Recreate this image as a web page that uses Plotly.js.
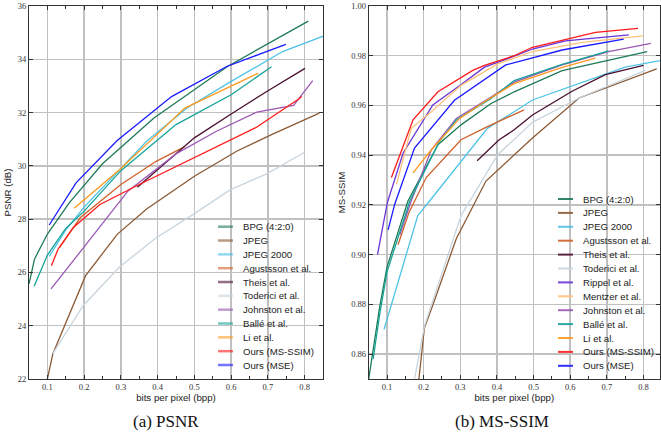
<!DOCTYPE html>
<html><head><meta charset="utf-8">
<script src="https://cdn.plot.ly/plotly-3.0.1.min.js"></script>
<style>html,body{margin:0;padding:0;background:#fff;}#chart{width:661px;height:439px;}</style>
</head><body><div id="chart"></div>
<script>
// ---------- PSNR panel (a) ----------
const seriesNamesA = ["BPG (4:2:0)", "JPEG", "JPEG 2000", "Agustsson et al.", "Theis et al.", "Toderici et al.", "Johnston et al.", "Ballé et al.", "Li et al.", "Ours (MS-SSIM)", "Ours (MSE)"];
const bpgA_x = [0.05, 0.065, 0.1, 0.16, 0.25, 0.39, 0.59, 0.81];
const bpgA_y = [25.57, 26.5, 27.44, 28.62, 30.08, 31.8, 33.73, 35.43];
const jpegA_x = [0.1, 0.115, 0.204, 0.29, 0.37, 0.5, 0.615, 0.71, 0.84];
const jpegA_y = [22.0, 22.95, 25.88, 27.43, 28.38, 29.61, 30.55, 31.17, 31.98];
const jp2kA_x = [0.105, 0.15, 0.2, 0.3, 0.37, 0.48, 0.6, 0.74, 0.87];
const jp2kA_y = [26.6, 27.6, 28.45, 29.9, 30.92, 32.17, 33.17, 34.29, 34.97];
const agusA_x = [0.133, 0.19, 0.3, 0.396, 0.474];
const agusA_y = [26.93, 28.06, 29.3, 30.17, 30.72];
const theisA_x = [0.345, 0.5, 0.597, 0.697, 0.801];
const theisA_y = [29.2, 31.05, 31.92, 32.79, 33.66];
const todA_x = [0.115, 0.197, 0.297, 0.397, 0.497, 0.597, 0.697, 0.801];
const todA_y = [22.95, 24.75, 26.21, 27.31, 28.18, 29.1, 29.7, 30.52];
const johnA_x = [0.11, 0.319, 0.45, 0.56, 0.67, 0.77, 0.822];
const johnA_y = [25.38, 29.05, 30.45, 31.3, 32.02, 32.27, 33.2];
const balleA_x = [0.064, 0.1, 0.15, 0.2, 0.3, 0.45, 0.6, 0.71];
const balleA_y = [25.48, 26.65, 27.65, 28.3, 29.82, 31.55, 32.67, 33.72];
const liA_x = [0.173, 0.297, 0.4, 0.474, 0.674];
const liA_y = [28.41, 29.86, 31.2, 32.17, 33.48];
const msssimA_x = [0.111, 0.129, 0.17, 0.197, 0.243, 0.35, 0.5, 0.669, 0.783, 0.792];
const msssimA_y = [26.25, 26.87, 27.68, 28.0, 28.55, 29.3, 30.3, 31.45, 32.5, 32.6];
const mseA_x = [0.105, 0.137, 0.178, 0.29, 0.438, 0.588, 0.749];
const mseA_y = [27.78, 28.49, 29.36, 30.95, 32.6, 33.73, 34.56];

// ---------- MS-SSIM panel (b) ----------
const seriesNamesB = ["BPG (4:2:0)", "JPEG", "JPEG 2000", "Agustsson et al.", "Theis et al.", "Toderici et al.", "Rippel et al.", "Mentzer et al.", "Johnston et al.", "Ballé et al.", "Li et al.", "Ours (MS-SSIM)", "Ours (MSE)"];
const bpgB_x = [0.05, 0.08, 0.1, 0.157, 0.239, 0.302, 0.384, 0.447, 0.578, 0.81];
const bpgB_y = [0.85, 0.879, 0.895, 0.9216, 0.9442, 0.9522, 0.9608, 0.9655, 0.974, 0.9817];
const jpegB_x = [0.187, 0.202, 0.23, 0.289, 0.37, 0.447, 0.497, 0.624, 0.836];
const jpegB_y = [0.85, 0.8705, 0.8818, 0.9064, 0.9296, 0.9402, 0.9469, 0.963, 0.9747];
const jp2kB_x = [0.092, 0.184, 0.221, 0.325, 0.374, 0.447, 0.497, 0.75, 0.845];
const jp2kB_y = [0.870, 0.9157, 0.9225, 0.9416, 0.9508, 0.9575, 0.9622, 0.9754, 0.978];
const agusB_x = [0.13, 0.16, 0.207, 0.302, 0.374, 0.447, 0.474];
const agusB_y = [0.904, 0.917, 0.931, 0.9462, 0.9515, 0.9562, 0.9582];
const theisB_x = [0.346, 0.406, 0.447, 0.497, 0.605, 0.696, 0.8];
const theisB_y = [0.9378, 0.9462, 0.9502, 0.9562, 0.9657, 0.9724, 0.9761];
const todB_x = [0.175, 0.202, 0.302, 0.402, 0.497, 0.624, 0.805];
const todB_y = [0.85, 0.8712, 0.9157, 0.9402, 0.9532, 0.963, 0.9741];
const rippelB_x = [0.074, 0.101, 0.144, 0.225, 0.293, 0.366, 0.447, 0.497, 0.587, 0.76];
const rippelB_y = [0.900, 0.921, 0.9409, 0.9602, 0.9674, 0.9754, 0.9798, 0.9827, 0.986, 0.9884];
const mentzerB_x = [0.126, 0.166, 0.221, 0.302, 0.402, 0.497, 0.633, 0.798];
const mentzerB_y = [0.9283, 0.9508, 0.9575, 0.9681, 0.9767, 0.9817, 0.9854, 0.988];
const johnB_x = [0.135, 0.166, 0.221, 0.289, 0.384, 0.447, 0.578, 0.705, 0.82];
const johnB_y = [0.908, 0.9216, 0.9422, 0.9548, 0.9634, 0.9694, 0.9763, 0.9817, 0.985];
const balleB_x = [0.062, 0.08, 0.1, 0.162, 0.243, 0.289, 0.384, 0.447, 0.578, 0.705];
const balleB_y = [0.858, 0.876, 0.893, 0.9216, 0.9455, 0.9542, 0.9628, 0.97, 0.9765, 0.982];
const liB_x = [0.171, 0.221, 0.298, 0.366, 0.447, 0.578, 0.669];
const liB_y = [0.9329, 0.9422, 0.9548, 0.9615, 0.9688, 0.9753, 0.979];
const msssimB_x = [0.112, 0.171, 0.239, 0.334, 0.366, 0.447, 0.497, 0.669, 0.785];
const msssimB_y = [0.931, 0.9542, 0.9655, 0.9741, 0.9761, 0.980, 0.9834, 0.9894, 0.991];
const mseB_x = [0.103, 0.121, 0.175, 0.284, 0.424, 0.578, 0.746];
const mseB_y = [0.91, 0.9203, 0.9429, 0.9621, 0.9763, 0.9823, 0.9867];

const colorMap = {
  "BPG (4:2:0)": "#1e7a55", "JPEG": "#8c5a34", "JPEG 2000": "#4ec3e6",
  "Agustsson et al.": "#d0602a", "Theis et al.": "#4a1030", "Toderici et al.": "#c8d5de",
  "Rippel et al.": "#6a34d8", "Mentzer et al.": "#ffc07a", "Johnston et al.": "#9b59b6",
  "Ballé et al.": "#15a39a", "Li et al.": "#ff9a1e", "Ours (MS-SSIM)": "#ff1a1a", "Ours (MSE)": "#1a1aff"
};

const dataA = [[bpgA_x,bpgA_y],[jpegA_x,jpegA_y],[jp2kA_x,jp2kA_y],[agusA_x,agusA_y],[theisA_x,theisA_y],[todA_x,todA_y],[johnA_x,johnA_y],[balleA_x,balleA_y],[liA_x,liA_y],[msssimA_x,msssimA_y],[mseA_x,mseA_y]];
const dataB = [[bpgB_x,bpgB_y],[jpegB_x,jpegB_y],[jp2kB_x,jp2kB_y],[agusB_x,agusB_y],[theisB_x,theisB_y],[todB_x,todB_y],[rippelB_x,rippelB_y],[mentzerB_x,mentzerB_y],[johnB_x,johnB_y],[balleB_x,balleB_y],[liB_x,liB_y],[msssimB_x,msssimB_y],[mseB_x,mseB_y]];

const traces = [];
seriesNamesA.forEach((n, i) => traces.push({x: dataA[i][0], y: dataA[i][1], name: n, type: 'scatter', mode: 'lines',
  line: {color: colorMap[n], width: 1.3}, xaxis: 'x', yaxis: 'y', showlegend: false}));
seriesNamesB.forEach((n, i) => traces.push({x: dataB[i][0], y: dataB[i][1], name: n, type: 'scatter', mode: 'lines',
  line: {color: colorMap[n], width: 1.3}, xaxis: 'x2', yaxis: 'y2', showlegend: false}));

// pixel helpers for the figure layout
const W = 661, H = 439, ML = 29, MR = 1, MT = 6, MB = 60;
const PW = W - ML - MR, PH = H - MT - MB;
const px = v => (v - ML) / PW;
const py = v => (H - MB - v) / PH;

const shapes = [], annotations = [];
function addLegend(names, lx0, lx1, tx, y0, step, op, lw) {
  names.forEach((n, i) => {
    const yy = y0 + i * step;
    shapes.push({type: 'line', xref: 'paper', yref: 'paper', x0: px(lx0), x1: px(lx1), y0: py(yy), y1: py(yy),
      line: {color: colorMap[n], width: lw}, opacity: op});
    annotations.push({xref: 'paper', yref: 'paper', x: px(tx), y: py(yy), text: n, showarrow: false,
      xanchor: 'left', yanchor: 'middle', borderpad: 0,
      font: {family: 'Liberation Sans, Arial, sans-serif', size: 9.6, color: '#222'}});
  });
}
addLegend(seriesNamesA, 218, 233, 242, 226.7, 13.83, 0.6, 2.5);
addLegend(seriesNamesB, 558, 573, 582, 199, 13.9, 0.9, 2);

annotations.push({xref: 'paper', yref: 'paper', x: px(166), y: py(421.5), text: '(a) PSNR', showarrow: false,
  xanchor: 'center', yanchor: 'middle', font: {family: 'Liberation Serif, Times New Roman, serif', size: 17, color: '#111'}});
annotations.push({xref: 'paper', yref: 'paper', x: px(501.7), y: py(421.5), text: '(b) MS-SSIM', showarrow: false,
  xanchor: 'center', yanchor: 'middle', font: {family: 'Liberation Serif, Times New Roman, serif', size: 17, color: '#111'}});

const tickFont = {family: 'Liberation Serif, Times New Roman, serif', size: 8.5, color: '#333'};
const titleFont = {family: 'Liberation Sans, Arial, sans-serif', size: 9.7, color: '#222'};
const commonX = {
  dtick: 0.1, tick0: 0, ticks: 'inside', ticklen: 4, tickcolor: '#333', tickfont: tickFont,
  showgrid: true, gridcolor: '#c0c0c0', gridwidth: 1.5, zeroline: false, ticklabeloverflow: 'allow',
  showline: true, linecolor: '#333', linewidth: 1, mirror: 'allticks',
  minor: {dtick: 0.05, tick0: 0, ticks: 'inside', ticklen: 3, tickcolor: '#333', showgrid: false},
  title: {text: 'bits per pixel (bpp)', font: titleFont, standoff: 3}
};
const commonY = {
  ticks: 'inside', ticklen: 4, tickcolor: '#333', tickfont: tickFont, ticklabeloverflow: 'allow',
  showgrid: true, gridcolor: '#c0c0c0', gridwidth: 1.5, zeroline: false,
  showline: true, linecolor: '#333', linewidth: 1, mirror: 'allticks'
};

const layout = {
  width: W, height: H, margin: {l: ML, r: MR, t: MT, b: MB}, paper_bgcolor: '#fff', plot_bgcolor: '#fff',
  showlegend: false,
  xaxis: Object.assign({}, commonX, {domain: [0, px(323)], range: [0.05, 0.85], anchor: 'y'}),
  yaxis: Object.assign({}, commonY, {domain: [0, 1], range: [22, 36], dtick: 2, tick0: 22, anchor: 'x',
    title: {text: 'PSNR (dB)', font: titleFont, standoff: 4}}),
  xaxis2: Object.assign({}, commonX, {domain: [px(368.7), 1], range: [0.05, 0.845], anchor: 'y2'}),
  yaxis2: Object.assign({}, commonY, {domain: [0, 1], range: [0.85, 1.0], dtick: 0.02, tick0: 0.86, tickformat: '.2f', anchor: 'x2',
    title: {text: 'MS-SSIM', font: titleFont, standoff: 3}}),
  shapes: shapes, annotations: annotations
};
Plotly.newPlot('chart', traces, layout, {displayModeBar: false, staticPlot: true});
</script></body></html>
